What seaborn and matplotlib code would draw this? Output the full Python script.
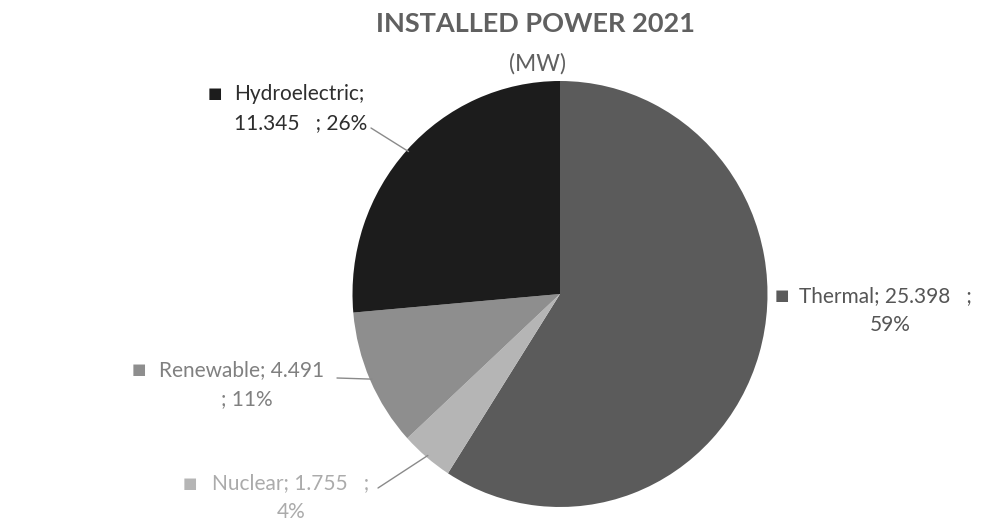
import matplotlib
matplotlib.use("Agg")
import matplotlib.pyplot as plt
import seaborn as sns
import numpy as np

# ---- data ----
categories = ["Thermal", "Nuclear", "Renewable", "Hydroelectric"]
values = [25.398, 1.755, 4.491, 11.345]
value_labels = ["25.398", "1.755", "4.491", "11.345"]
pct_labels = ["59%", "4%", "11%", "26%"]
title_lines = ["INSTALLED POWER 2021", "(MW)"]

sns.set_theme(style="white")
plt.rcParams["font.family"] = ["Lato", "DejaVu Sans"]

slice_colors = ["#5b5b5b", "#b5b5b5", "#8e8e8e", "#1c1c1c"]
text_colors = ["#555555", "#ababab", "#808080", "#2e2e2e"]

W, H = 984, 530
fig = plt.figure(figsize=(W / 100, H / 100), dpi=100)
fig.patch.set_facecolor("white")

cx, cy = 560, 294     # pie centre (pixels from top-left)
rx, ry = 207.5, 213   # pie half-width / half-height
ax = fig.add_axes([(cx - rx) / W, 1 - (cy + ry) / H, 2 * rx / W, 2 * ry / H])
wedges, _ = ax.pie(values, colors=slice_colors, startangle=90, counterclock=False,
                   wedgeprops=dict(linewidth=0))
ax.set_aspect("auto")
ax.set_xlim(-1, 1)
ax.set_ylim(-1, 1)
ax.axis("off")


def fx(x):
    return x / W


def fy(y):
    return 1 - y / H


def edge_px(w, r=1.0):
    a = np.deg2rad((w.theta1 + w.theta2) / 2)
    return cx + rx * r * np.cos(a), cy - ry * r * np.sin(a)


# title
fig.text(fx(536), fy(24), title_lines[0], ha="center", va="center",
         fontsize=19.5, fontweight="bold", color="#606060")
fig.text(fx(537), fy(64), title_lines[1], ha="center", va="center",
         fontsize=16.5, color="#606060")

fs = 15
# label layout: (square x, line1 x, line1 y, line2 x, line2 y, line2 ha, leader start)
layout = {
    "Hydroelectric": (215, 234, 94, 234, 123, "left", (371, 128)),
    "Thermal": (782, 799, 296, 890, 325, "center", None),
    "Renewable": (139, 159, 370, 221, 399, "left", (337, 378)),
    "Nuclear": (190, 212, 483, 277, 512, "left", (378, 488)),
}

for i, cat in enumerate(categories):
    sqx, l1x, l1y, l2x, l2y, ha2, lead = layout[cat]
    fig.text(fx(sqx), fy(l1y), "\u25A0", ha="center", va="center",
             fontsize=11, color=slice_colors[i], family=["DejaVu Sans"])
    if cat in ("Hydroelectric",):
        line1 = f"{cat};"
        line2 = f"{value_labels[i]}   ; {pct_labels[i]}"
    elif cat == "Renewable":
        line1 = f"{cat}; {value_labels[i]}"
        line2 = f"; {pct_labels[i]}"
    else:
        line1 = f"{cat}; {value_labels[i]}   ;"
        line2 = pct_labels[i]
    fig.text(fx(l1x), fy(l1y), line1, ha="left", va="center",
             fontsize=fs, color=text_colors[i])
    fig.text(fx(l2x), fy(l2y), line2, ha=ha2, va="center",
             fontsize=fs, color=text_colors[i])
    if lead is not None:
        ex, ey = edge_px(wedges[i], 0.99)
        fig.add_artist(plt.Line2D([fx(lead[0]), fx(ex)], [fy(lead[1]), fy(ey)],
                                  transform=fig.transFigure, color="#8a8a8a", lw=1))

fig.savefig("out.png", dpi=100, facecolor="white")
